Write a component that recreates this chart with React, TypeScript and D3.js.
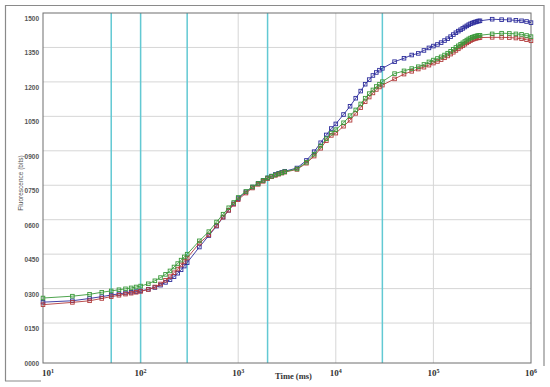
import React from "react";
import * as d3 from "d3";

// sample times (x axis, log scale)
const times = [
  10, 20, 30, 40, 50, 60, 70, 80, 90, 100,
  120, 140, 160, 180, 200, 220, 240, 260, 280, 300,
  400, 500, 600, 700, 800, 900, 1000,
  1200, 1400, 1600, 1800, 2000, 2200, 2400, 2600, 2800, 3000,
  4000, 5000, 6000, 7000, 8000, 9000, 10000,
  12000, 14000, 16000, 18000, 20000, 22000, 24000, 26000, 28000, 30000,
  40000, 50000, 60000, 70000, 80000, 90000, 100000, 110000, 120000, 130000,
  140000, 150000, 160000, 170000, 180000, 190000, 200000, 210000, 220000,
  230000, 240000, 250000, 260000, 270000, 280000, 290000, 300000,
  400000, 500000, 600000, 700000, 800000, 900000, 1000000,
];

const blueValues = [
  241, 247, 257, 265, 272, 277, 281, 284, 287, 290,
  297, 305, 315, 327, 339, 352, 367, 382, 398, 413,
  481, 531, 572, 611, 641, 669, 692,
  721, 742, 758, 771, 782, 790, 797, 802, 806, 811,
  825, 858, 896, 935, 969, 997, 1017,
  1058, 1094, 1129, 1160, 1190, 1210, 1228, 1241, 1251, 1259,
  1288, 1303, 1317, 1324, 1337, 1348, 1356, 1363, 1371, 1380,
  1388, 1397, 1406, 1414, 1421, 1427, 1433, 1439, 1444,
  1449, 1453, 1456, 1459, 1461, 1463, 1465, 1466,
  1473, 1471, 1470, 1468, 1466, 1463, 1458,
];

const greenValues = [
  259, 267, 275, 284, 290, 295, 299, 303, 307, 311,
  321, 334, 348, 362, 377, 394, 409, 424, 438, 450,
  508, 548, 590, 624, 652, 675, 697,
  723, 743, 758, 771, 782, 789, 795, 800, 804, 809,
  821, 850, 885, 921, 953, 977, 992,
  1022, 1053, 1078, 1104, 1129, 1149, 1165, 1180, 1190, 1201,
  1236, 1248, 1258, 1266, 1276, 1287, 1295, 1302, 1309, 1317,
  1325, 1333, 1342, 1350, 1357, 1364, 1370, 1376, 1382,
  1387, 1391, 1394, 1397, 1399, 1401, 1402, 1403,
  1409, 1412, 1411, 1409, 1407, 1402, 1397,
];

const redValues = [
  230, 240, 247, 257, 265, 271, 276, 280, 284, 288,
  296, 307, 320, 336, 352, 369, 385, 403, 418, 433,
  498, 534, 575, 611, 641, 667, 687,
  716, 738, 754, 767, 779, 787, 793, 798, 803, 807,
  819, 846, 877, 911, 944, 967, 977,
  1007, 1033, 1063, 1088, 1114, 1134, 1152, 1167, 1178, 1186,
  1213, 1234, 1246, 1256, 1264, 1273, 1282, 1289, 1297, 1305,
  1313, 1321, 1329, 1337, 1344, 1352, 1358, 1364, 1370,
  1375, 1380, 1384, 1387, 1389, 1391, 1392, 1393,
  1394, 1394, 1393, 1391, 1388, 1384, 1379,
];

const yTicks = [0, 150, 300, 450, 600, 750, 900, 1050, 1200, 1350, 1500];
const xDecades = [1, 2, 3, 4, 5, 6];
const markerTimes = [50, 100, 300, 2000, 30000];

const series = [
  { name: "blue", color: "#2d2d9c", values: blueValues },
  { name: "red", color: "#b23b3b", values: redValues },
  { name: "green", color: "#3a9a3a", values: greenValues },
];

const W = 550;
const H = 387;
const left = 43, right = 531, top = 13, bottom = 363;

export default function App() {
  const x = d3.scaleLog().domain([10, 1e6]).range([left, right]);
  const y = d3.scaleLinear().domain([0, 1500]).range([357.5, top]);

  const line = (vals: number[]) =>
    d3.line<number>()
      .x((_, i) => x(times[i]))
      .y((d) => y(d))(vals) || "";

  const fmt = (v: number) => String(v).padStart(4, "0");

  return (
    <svg width={W} height={H} style={{ position: "absolute", left: 0, top: 0, background: "#fff" }}>
      {/* outer frame */}
      <g stroke="#8a8a8a" strokeWidth={1.2} fill="none">
        <line x1={5} y1={5.5} x2={544} y2={5.5} />
        <line x1={5.5} y1={5} x2={5.5} y2={381} />
        <line x1={5} y1={381} x2={41} y2={381} />
        <line x1={544} y1={5} x2={544} y2={366} />
      </g>

      {/* horizontal grid */}
      {yTicks.slice(1, -1).map((t) => (
        <line key={"hg" + t} x1={left} x2={right} y1={y(t)} y2={y(t)} stroke="#d6d6d6" strokeWidth={1} />
      ))}
      {/* vertical decade grid */}
      {xDecades.slice(1, -1).map((e) => (
        <line key={"vg" + e} x1={x(Math.pow(10, e))} x2={x(Math.pow(10, e))} y1={top} y2={bottom} stroke="#d6d6d6" strokeWidth={1} />
      ))}
      {/* cyan time markers */}
      {markerTimes.map((t) => (
        <line key={"m" + t} x1={x(t)} x2={x(t)} y1={top} y2={bottom} stroke="#62c9d3" strokeWidth={1.5} />
      ))}

      {/* plot border */}
      <rect x={left} y={top} width={right - left} height={bottom - top} fill="none" stroke="#6e6e6e" strokeWidth={1} />

      {/* series */}
      {series.map((s) => (
        <g key={s.name}>
          <path d={line(s.values)} fill="none" stroke={s.color} strokeWidth={0.9} />
          {s.values.map((v, i) => (
            <rect
              key={i}
              x={x(times[i]) - 1.8}
              y={y(v) - 1.8}
              width={3.6}
              height={3.6}
              fill="none"
              stroke={s.color}
              strokeWidth={0.9}
            />
          ))}
        </g>
      ))}

      {/* y tick labels */}
      {yTicks.map((t) => (
        <text
          key={"yl" + t}
          x={39}
          y={y(t) + 5.5}
          textAnchor="end"
          dominantBaseline="central"
          fontFamily="Arial, 'Liberation Sans', sans-serif"
          fontSize={6.5}
          fontWeight="bold"
          fill="#555"
        >
          {fmt(t)}
        </text>
      ))}

      {/* y axis title */}
      <text
        transform={`translate(20,183) rotate(-90)`}
        textAnchor="middle"
        dominantBaseline="central"
        fontFamily="Arial, 'Liberation Sans', sans-serif"
        fontSize={6.5}
        fill="#555"
      >
        Fluorescence (bits)
      </text>

      {/* x tick labels */}
      {xDecades.map((e, i) => (
        <text
          key={"xl" + e}
          x={i === 0 ? 42 : x(Math.pow(10, e))}
          y={376}
          textAnchor={i === 0 ? "start" : "middle"}
          fontFamily="'Liberation Serif', 'Times New Roman', serif"
          fontSize={9}
          fontWeight="bold"
          fill="#333"
        >
          10
          <tspan fontSize={6} dy={-3.5}>{e}</tspan>
        </text>
      ))}

      {/* x axis title */}
      <text
        x={275}
        y={379}
        fontFamily="'Liberation Serif', 'Times New Roman', serif"
        fontSize={8.5}
        fontWeight="bold"
        fill="#333"
      >
        Time (ms)
      </text>
    </svg>
  );
}
